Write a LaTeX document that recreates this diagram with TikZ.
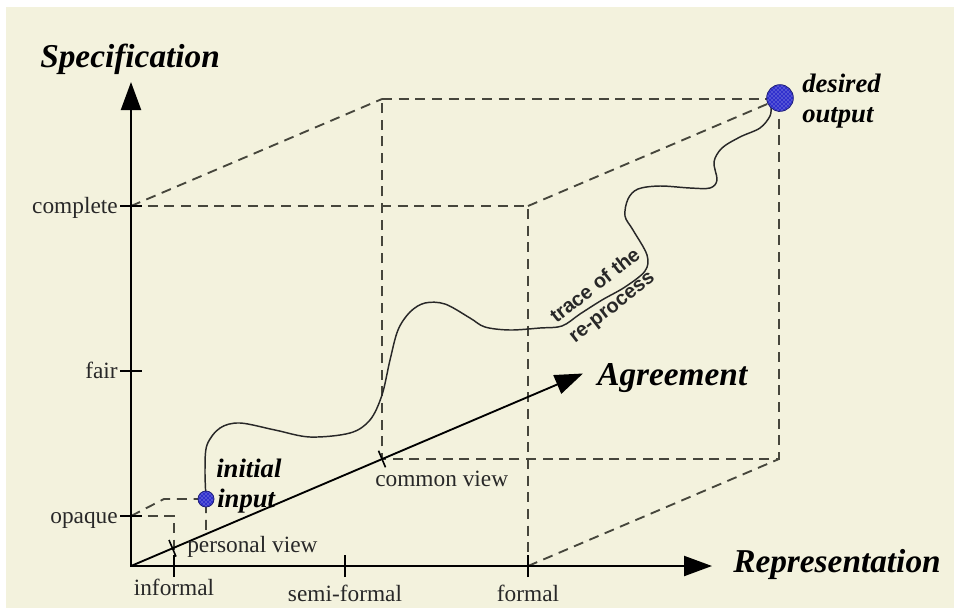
\documentclass[tikz,border=0pt]{standalone}
\usepackage{fontspec}
\setmainfont{Liberation Serif}
\newfontfamily\tracefont{Liberation Sans}
\usetikzlibrary{arrows.meta,patterns}
\definecolor{paper}{RGB}{243,242,221}
\definecolor{ink}{RGB}{40,40,40}
\definecolor{guidegray}{RGB}{70,70,60}
\definecolor{ballblue}{RGB}{48,48,205}
\definecolor{balledge}{RGB}{30,30,120}

\begin{document}
\begin{tikzpicture}[x=0.75pt,y=-0.75pt,
  >={Triangle[length=21pt,width=15pt]},
  axisline/.style={line width=1.6pt, black, line join=miter},
  guide/.style={dash pattern=on 7.5pt off 5pt, line width=1.4pt, draw=guidegray},
  tickmark/.style={line width=1.2pt, black},
  ticklabel/.style={font=\fontsize{17.5}{20}\selectfont, text=ink, inner sep=0pt},
  axislabel/.style={font=\fontsize{25}{30}\selectfont\bfseries\itshape, inner sep=0pt},
  pointlabel/.style={font=\fontsize{20}{22}\selectfont\bfseries\itshape, inner sep=0pt},
  ball/.style={circle, draw=balledge, line width=0.6pt, preaction={fill=ballblue},
    pattern=crosshatch dots, pattern color=white!75!ballblue, inner sep=0pt},
  tracepath/.style={line width=1.1pt, draw=ink, line join=round},
  tracelabel/.style={font=\tracefont\bfseries\fontsize{15}{20}\selectfont, text=ink,
    rotate=38, inner sep=0pt, align=center}
]
% page and paper
\fill[white] (0,0) rectangle (954,612);
\fill[paper] (6,7) rectangle (954,608);
\useasboundingbox (0,0) rectangle (954,612);

% axes and key points
\coordinate (O) at (131,566);
\coordinate (ytip) at (131,82);
\coordinate (xtip) at (712,566);
\coordinate (atip) at (583,373.5);
\coordinate (fairpt) at (131,371);
\coordinate (semipt) at (345,566);

% large box: front face and back face
\coordinate (FTL) at (131,206);
\coordinate (FTR) at (528,206);
\coordinate (FBR) at (528,566);
\coordinate (BTL) at (382,99);
\coordinate (BTR) at (779,99);
\coordinate (BBR) at (779,459);
\coordinate (BBL) at (382,459);

% small box
\coordinate (sFTL) at (131,516);
\coordinate (sFTR) at (174,516);
\coordinate (sFBR) at (174,566);
\coordinate (sBTL) at (164,499);
\coordinate (sBTR) at (206,499);
\coordinate (sBBR) at (206,534);
\coordinate (pview) at (172.5,548.3);

% start and end of the process
\coordinate (inpt) at (206,499);
\coordinate (outpt) at (780,98);

% dashed guide lines of the large box
\draw[guide] (FTL) -- (FTR) -- (FBR);
\draw[guide] (FTL) -- (BTL);
\draw[guide] (FTR) -- (BTR);
\draw[guide] (FBR) -- (BBR);
\draw[guide] (BTL) -- (BTR) -- (BBR) -- (BBL) -- cycle;

% dashed guide lines of the small box
\draw[guide] (sFTL) -- (sFTR) -- (sFBR);
\draw[guide] (sFTL) -- (sBTL) -- (sBTR) -- (sBBR);

% axes
\draw[axisline, <->] (ytip) -- (O) -- (xtip);
\draw[axisline, line width=1.4pt, ->] (O) -- (atip);

% tick marks
\foreach \p in {FTL, fairpt, sFTL}
  \draw[tickmark] ([xshift=-8.25pt]\p) -- ([xshift=8.25pt]\p);
\foreach \p in {sFBR, semipt, FBR}
  \draw[tickmark] ([yshift=-8.25pt]\p) -- ([yshift=8.25pt]\p);
\draw[tickmark] ([shift={(-3.5,-8.3)}]BBL) -- ([shift={(3.5,8.3)}]BBL);
\draw[tickmark] ([shift={(-3.5,-8.3)}]pview) -- ([shift={(3.5,8.3)}]pview);

% trace of the re-process
\draw[tracepath] plot[smooth, tension=0.55] coordinates {
  (inpt) (205,470) (207,445) (220,428) (240,423) (275,430) (310,437)
  (350,433) (370,420) (382,395) (390,360) (398,330) (410,312) (425,303)
  (445,304) (470,318) (485,327) (510,330) (540,328) (562,326) (580,314)
  (602,300) (625,287) (645,271) (647,255) (633,230) (625,216) (628,199)
  (638,189) (660,186) (690,188) (710,188) (717,180) (714,162) (722,148)
  (740,137) (760,128) (770,116) (772,105) (outpt)};

% start and end markers
\node[ball, minimum size=12pt] (initial) at (inpt) {};
\node[ball, minimum size=20pt] (desired) at (outpt) {};

% axis titles
\node[axislabel, anchor=base west] (spec) at (40,67) {Specification};
\node[axislabel, anchor=base west] (repr) at (733,572) {Representation};
\node[axislabel, anchor=base west] (agree) at (597,385) {Agreement};

% scale labels
\node[ticklabel, anchor=base east] (lcomplete) at (118,213) {complete};
\node[ticklabel, anchor=base east] (lfair) at (118,378) {fair};
\node[ticklabel, anchor=base east] (lopaque) at (118,523) {opaque};
\node[ticklabel, anchor=base] (linformal) at (174,595) {informal};
\node[ticklabel, anchor=base] (lsemi) at (345,601) {semi-formal};
\node[ticklabel, anchor=base] (lformal) at (528,601) {formal};
\node[ticklabel, anchor=base west] (lpersonal) at (187,552) {personal view};
\node[ticklabel, anchor=base west] (lcommon) at (375,486) {common view};

% point labels
\node[pointlabel, anchor=base west] (linitial) at (216,477) {initial};
\node[pointlabel, anchor=base west] (linput) at (217,507) {input};
\node[pointlabel, anchor=base west] (ldesired) at (802,92) {desired};
\node[pointlabel, anchor=base west] (loutput) at (802,122) {output};

% label along the trace, one line on each side of the curve
\node[tracelabel] (ltrace) at (604,297) {trace of the\\re-process};
\end{tikzpicture}
\end{document}
